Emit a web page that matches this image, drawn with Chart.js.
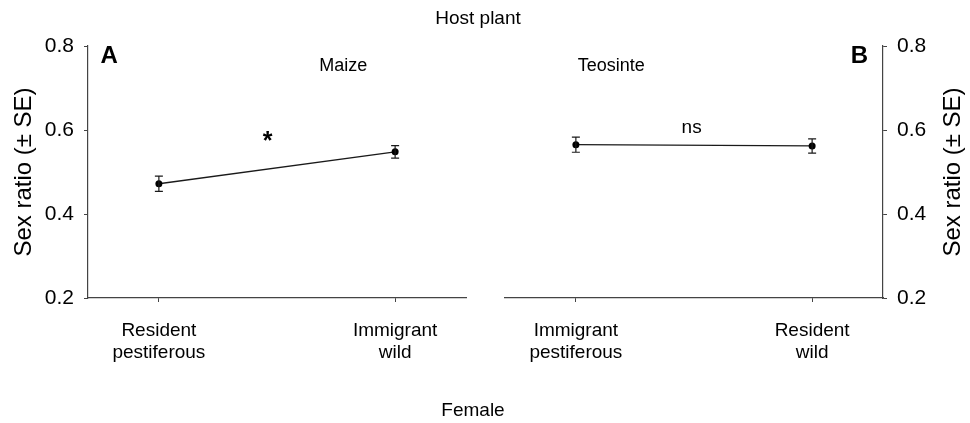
<!DOCTYPE html>
<html>
<head>
<meta charset="utf-8">
<script src="https://cdn.jsdelivr.net/npm/chart.js@4/dist/chart.umd.min.js"></script>
<style>
  body { margin: 0; background: #fff; }
  #wrap { position: relative; width: 970px; height: 423px; font-family: Arial, "Liberation Sans", sans-serif; }
  canvas { position: absolute; left: 0; top: 0; }
  .lbl { position: absolute; font-size: 19px; color: #000; transform: translate(-50%, -50%); white-space: nowrap; }
</style>
</head>
<body>
<div id="wrap">
  <canvas id="panelA" width="970" height="423"></canvas>
  <canvas id="panelB" width="970" height="423"></canvas>
  <div class="lbl" style="left:478px;top:18px;">Host plant</div>
  <div class="lbl" style="left:473px;top:410px;">Female</div>
</div>
<script>
// datos
var femaleMaize = [['Resident', 'pestiferous'], ['Immigrant', 'wild']];
var femaleTeosinte = [['Immigrant', 'pestiferous'], ['Resident', 'wild']];
var maizeRatio = [0.472, 0.548];
var maizeSE = [0.018, 0.015];
var teosinteRatio = [0.565, 0.562];
var teosinteSE = [0.018, 0.017];
var yTicks = [0.2, 0.4, 0.6, 0.8];
var yTitle = 'Sex ratio (\u00b1 SE)';

var fuente = 'Arial, "Liberation Sans", sans-serif';
var negro = '#1a1a1a';

// barras de error + textos del panel
var errorBars = {
  id: 'errorBars',
  afterDatasetsDraw(chart, args, opts) {
    var ctx = chart.ctx;
    var ys = chart.scales.y;
    var meta = chart.getDatasetMeta(0);
    ctx.save();
    ctx.strokeStyle = negro;
    ctx.lineWidth = 1.2;
    meta.data.forEach(function (pt, i) {
      var v = opts.values[i], se = opts.se[i];
      var top = ys.getPixelForValue(v + se);
      var bot = ys.getPixelForValue(v - se);
      ctx.beginPath();
      ctx.moveTo(pt.x, top); ctx.lineTo(pt.x, bot);
      ctx.moveTo(pt.x - 4, top); ctx.lineTo(pt.x + 4, top);
      ctx.moveTo(pt.x - 4, bot); ctx.lineTo(pt.x + 4, bot);
      ctx.stroke();
    });
    // textos
    ctx.fillStyle = '#000';
    ctx.textAlign = 'center';
    ctx.textBaseline = 'middle';
    (opts.notes || []).forEach(function (n) {
      ctx.font = n.font;
      ctx.fillText(n.text, chart.scales.x.getPixelForValue(n.x), ys.getPixelForValue(n.y));
    });
    if (opts.rightTitle) {
      ctx.save();
      ctx.translate(953, (chart.chartArea.top + chart.chartArea.bottom) / 2);
      ctx.rotate(-Math.PI / 2);
      ctx.font = '24px ' + fuente;
      ctx.fillText(opts.rightTitle, 0, 0);
      ctx.restore();
    }
    ctx.restore();
  }
};

function crearPanel(id, etiquetas, valores, se, lado, notas) {
  var ctx = document.getElementById(id).getContext('2d');
  var izq = lado === 'left';
  return new Chart(ctx, {
    type: 'line',
    data: {
      datasets: [{
        data: valores.map(function (v, i) { return { x: i, y: v }; }),
        borderColor: negro,
        borderWidth: 1.3,
        backgroundColor: negro,
        pointRadius: 3.5,
        pointBackgroundColor: '#000',
        pointBorderWidth: 0,
        fill: false,
        tension: 0
      }]
    },
    options: {
      responsive: false,
      animation: false,
      devicePixelRatio: 1,
      layout: { padding: izq ? { left: 0, right: 504, top: 46, bottom: 0 } : { left: 505, right: 0, top: 46, bottom: 0 } },
      plugins: {
        legend: { display: false },
        tooltip: { enabled: false },
        errorBars: { values: valores, se: se, notes: notas, rightTitle: izq ? null : yTitle }
      },
      scales: {
        x: {
          type: 'linear',
          min: -0.3,
          max: 1.3,
          afterBuildTicks: function (s) { s.ticks = etiquetas.map(function (e, i) { return { value: i }; }); },
          afterFit: function (s) { s.height = 125; },
          ticks: {
            callback: function (v) { return etiquetas[v]; },
            font: { size: 19, family: fuente, lineHeight: 1.2 },
            color: '#000',
            padding: 17,
            maxRotation: 0
          },
          grid: { drawOnChartArea: false, tickLength: 4, color: '#444', tickWidth: 1 },
          border: { color: '#444', width: 1.2 }
        },
        y: {
          position: lado,
          min: 0.2,
          max: 0.8,
          afterBuildTicks: function (s) { s.ticks = yTicks.map(function (t) { return { value: t }; }); },
          afterFit: function (s) { s.width = izq ? 88 : 87; },
          ticks: {
            callback: function (v) { return v.toFixed(1); },
            font: { size: 21, family: fuente },
            color: '#000',
            padding: 10
          },
          title: { display: izq, text: yTitle, font: { size: 24, family: fuente, lineHeight: 1.2 }, color: '#000', padding: { top: 10, bottom: 0 } },
          grid: { drawOnChartArea: false, tickLength: 4, color: '#444', tickWidth: 1 },
          border: { color: '#444', width: 1.2 }
        }
      }
    },
    plugins: [errorBars]
  });
}

crearPanel('panelA', femaleMaize, maizeRatio, maizeSE, 'left', [
  { text: 'A', x: -0.21, y: 0.775, font: 'bold 24px ' + fuente },
  { text: 'Maize', x: 0.78, y: 0.753, font: '18px ' + fuente },
  { text: '*', x: 0.46, y: 0.572, font: 'bold 25px ' + fuente }
]);
crearPanel('panelB', femaleTeosinte, teosinteRatio, teosinteSE, 'right', [
  { text: 'B', x: 1.2, y: 0.776, font: 'bold 24px ' + fuente },
  { text: 'Teosinte', x: 0.15, y: 0.753, font: '18px ' + fuente },
  { text: 'ns', x: 0.49, y: 0.606, font: '19px ' + fuente }
]);
</script>
</body>
</html>
